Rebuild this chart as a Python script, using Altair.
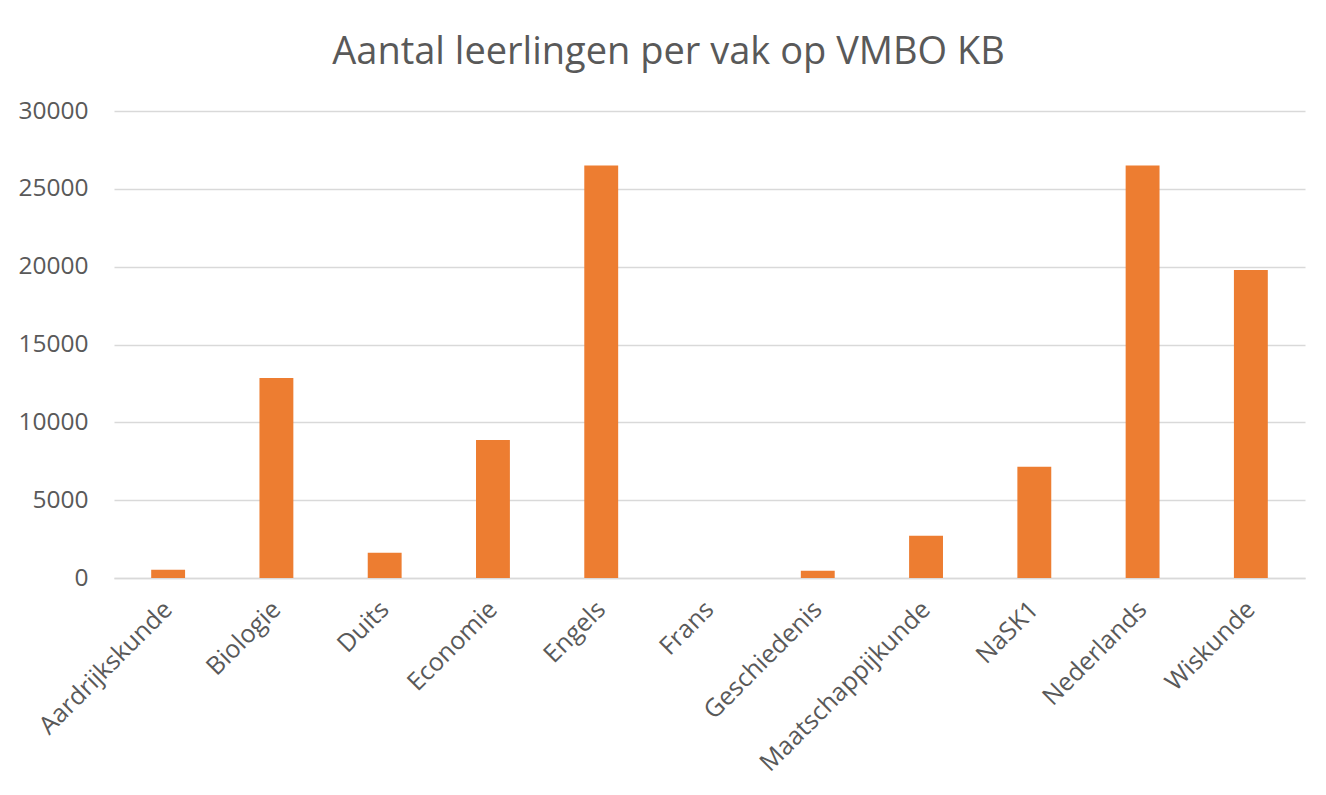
import pandas as pd
import altair as alt

# Aantal leerlingen per vak (VMBO KB)
vakken = ['Aardrijkskunde', 'Biologie', 'Duits', 'Economie', 'Engels', 'Frans',
          'Geschiedenis', 'Maatschappijkunde', 'NaSK1', 'Nederlands', 'Wiskunde']
leerlingen = [530, 12850, 1620, 8870, 26500, 0, 470, 2710, 7140, 26500, 19780]
y_ticks = [0, 5000, 10000, 15000, 20000, 25000, 30000]

df = pd.DataFrame({'Vak': vakken, 'Leerlingen': leerlingen})

FONT = 'Open Sans'
GREY = '#595959'

chart = alt.Chart(df).mark_bar(color='#ED7D31').encode(
    x=alt.X('Vak:N', sort=vakken, title=None,
            scale=alt.Scale(paddingInner=0.687, paddingOuter=0.3435),
            axis=alt.Axis(labelAngle=-45, labelAlign='right', labelBaseline='middle',
                          labelFontSize=25, labelColor=GREY, labelFont=FONT,
                          labelPadding=27, ticks=False, domainColor='#d9d9d9',
                          domainWidth=1.5, labelLimit=400)),
    y=alt.Y('Leerlingen:Q', title=None,
            scale=alt.Scale(domain=[0, 30000], nice=False),
            axis=alt.Axis(values=y_ticks, format='d', labelFontSize=24.5,
                          labelColor=GREY, labelFont=FONT, labelPadding=26,
                          ticks=False, domain=False, gridColor='#d9d9d9',
                          gridWidth=1.5))
).properties(
    width=1191,
    height=467,
    title=alt.TitleParams('Aantal leerlingen per vak op VMBO KB', fontSize=38,
                          font=FONT, fontWeight='normal', color=GREY,
                          anchor='middle', offset=26, dx=-41),
    autosize=alt.AutoSizeParams(type='none'),
    padding={'left': 106, 'top': 103, 'right': 13, 'bottom': 200}
).configure_view(strokeWidth=0)

chart.save("out.html", embed_options={"renderer": "svg", "actions": False})
